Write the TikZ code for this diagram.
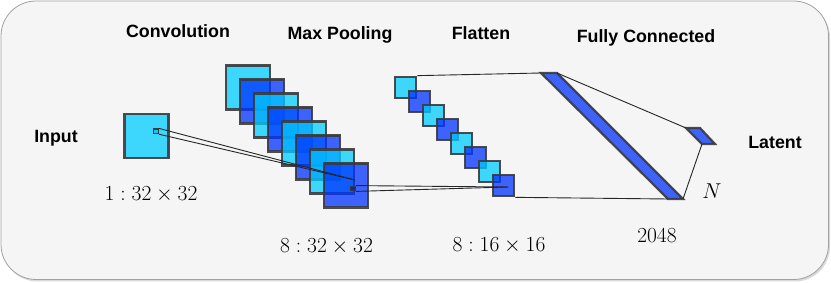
\RequirePackage{fix-cm}
\documentclass[tikz,border=0pt]{standalone}
\usepackage{fontspec}
\newfontfamily\labfont{Liberation Sans}
\definecolor{bgc}{HTML}{F5F5F5}
\definecolor{framec}{HTML}{A0A0A0}
\definecolor{cyanc}{HTML}{00CCFF}
\definecolor{bluec}{HTML}{0033FF}
\definecolor{edgec}{HTML}{3A3A3A}
\begin{document}
\begin{tikzpicture}[x=1pt,y=-1pt,
  lab/.style={anchor=base,inner sep=0pt,font=\labfont\fontsize{17.8}{20}\selectfont\bfseries},
  mlab/.style={anchor=base,inner sep=0pt,font=\fontsize{21.5}{24}\selectfont},
  cell/.style={draw=edgec,line width=2.2pt,rectangle,inner sep=0pt,fill opacity=0.75,draw opacity=0.9},
  cyanbox/.style={cell,fill=cyanc},
  bluebox/.style={cell,fill=bluec},
  big/.style={minimum size=44pt},
  small/.style={minimum size=21.5pt},
  tiny/.style={draw=edgec,line width=1.3pt,rectangle,inner sep=0pt,minimum size=4.5pt},
  bar/.style={draw=edgec,line width=2.2pt,fill=bluec,fill opacity=0.75,draw opacity=0.9},
  conn/.style={draw=black!85,line width=0.9pt}
]
\useasboundingbox (0,0) rectangle (831,283);
% frame
\fill[gray!30,rounded corners=35pt] (2.5,2.5) rectangle (830,281.5);
\draw[framec,fill=bgc,line width=0.8pt,rounded corners=35pt] (1,1) rectangle (828.5,279.5);

% titles
\node[lab] (tconv) at (178,37.7) {Convolution};
\node[lab] (tpool) at (340,40) {Max Pooling};
\node[lab] (tflat) at (481,39.3) {Flatten};
\node[lab] (tfc) at (646,42.3) {Fully Connected};
\node[lab] (tin) at (56,142.3) {Input};
\node[lab] (tlat) at (775,148.5) {Latent};

% math labels
\node[mlab] (m1) at (151,201) {$1:32\times32$};
\node[mlab] (m2) at (326.5,252.3) {$8:32\times32$};
\node[mlab] (m3) at (499,251.7) {$8:16\times16$};
\node[mlab] (m4) at (657,242.7) {$2048$};
\node[mlab] (mN) at (712,198.3) {$N$};

% input
\node[cyanbox,big] (in) at (146.5,136) {};
\node[tiny,fill=cyanc] (ins) at (156,131.3) {};

% conv stack
\foreach \i in {1,...,8}{
  \pgfmathsetmacro{\cx}{248+14*(\i-1)}
  \pgfmathsetmacro{\cy}{87.5+14*(\i-1)}
  \ifodd\i
    \node[cyanbox,big] (c\i) at (\cx,\cy) {};
  \else
    \node[bluebox,big] (c\i) at (\cx,\cy) {};
  \fi
}
\node[tiny,fill=bluec!80!black] (cs) at (353,188.5) {};

% flatten stack
\foreach \i in {1,...,8}{
  \pgfmathsetmacro{\cx}{405.5+14*(\i-1)}
  \pgfmathsetmacro{\cy}{87.5+14*(\i-1)}
  \ifodd\i
    \node[cyanbox,small] (f\i) at (\cx,\cy) {};
  \else
    \node[bluebox,small] (f\i) at (\cx,\cy) {};
  \fi
}

% fully connected bar
\coordinate (fa) at (541,73);
\coordinate (fb) at (557,73);
\coordinate (fc) at (683,199);
\coordinate (fd) at (668,199);
\draw[bar] (fa) -- (fb) -- (fc) -- (fd) -- cycle;

% latent
\coordinate (la) at (686,128);
\coordinate (lb) at (700,128);
\coordinate (lc) at (715,144);
\coordinate (ld) at (702,144);
\draw[bar] (la) -- (lb) -- (lc) -- (ld) -- cycle;

% connectors
\coordinate (p1) at (355,180);
\draw[conn] (ins.north east) -- (p1);
\draw[conn] (ins.south east) -- (p1);
\coordinate (p2) at (508,187);
\draw[conn] (cs.north east) -- (p2);
\draw[conn] (cs.south east) -- (p2);
\draw[conn] (f1.north east) -- (fa);
\draw[conn] (f8.south east) -- (fd);
\draw[conn] (fb) -- (la);
\draw[conn] (fc) -- (ld);
\end{tikzpicture}
\end{document}
